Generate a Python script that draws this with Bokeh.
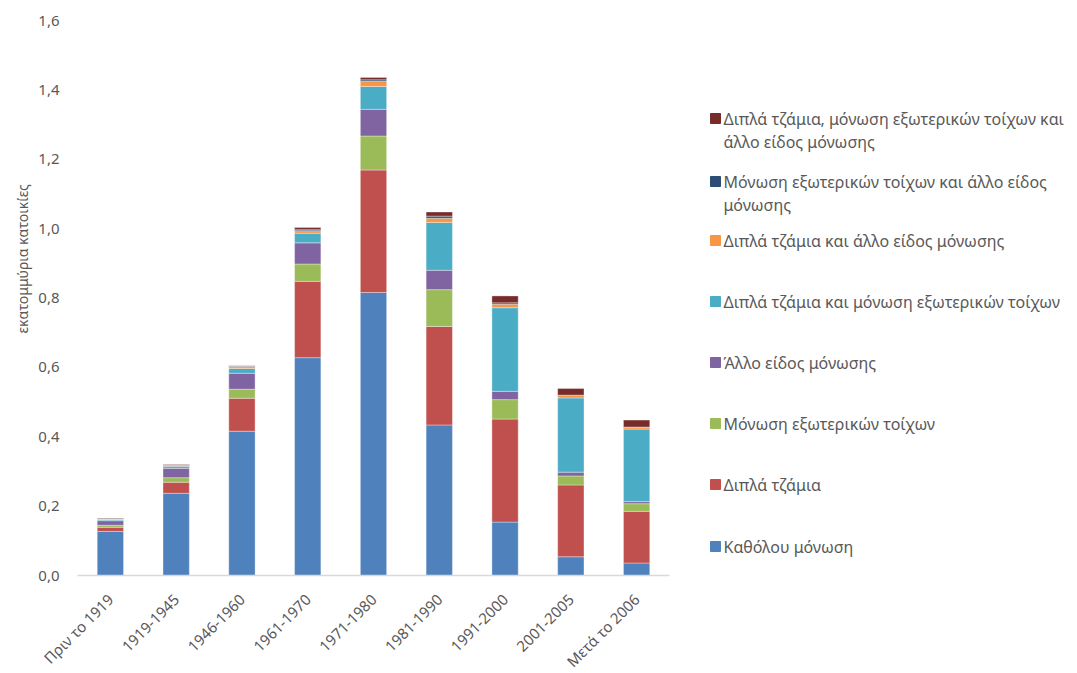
import math
from bokeh.plotting import figure
from bokeh.models import (FactorRange, Range1d, FixedTicker, CustomJSTickFormatter,
                          ColumnDataSource, Label, Title)
from bokeh.layouts import row
from bokeh.embed import file_html
from bokeh.resources import INLINE

# ---------------- data ----------------
periods = ["Πριν το 1919", "1919-1945", "1946-1960", "1961-1970", "1971-1980",
           "1981-1990", "1991-2000", "2001-2005", "Μετά το 2006"]

no_insulation     = [0.127, 0.237, 0.416, 0.628, 0.816, 0.434, 0.154, 0.054, 0.036]
double_glazing    = [0.012, 0.032, 0.095, 0.220, 0.353, 0.284, 0.297, 0.207, 0.149]
wall_insulation   = [0.006, 0.013, 0.026, 0.050, 0.098, 0.106, 0.056, 0.026, 0.022]
other_insulation  = [0.013, 0.027, 0.046, 0.061, 0.077, 0.056, 0.024, 0.011, 0.006]
glazing_walls     = [0.003, 0.006, 0.014, 0.028, 0.066, 0.138, 0.241, 0.214, 0.209]
glazing_other     = [0.002, 0.002, 0.005, 0.007, 0.015, 0.012, 0.010, 0.007, 0.005]
walls_other       = [0.001, 0.001, 0.001, 0.003, 0.004, 0.006, 0.004, 0.001, 0.001]
all_three         = [0.002, 0.002, 0.002, 0.006, 0.007, 0.012, 0.020, 0.019, 0.020]

series_keys = ["no_insulation", "double_glazing", "wall_insulation", "other_insulation",
               "glazing_walls", "glazing_other", "walls_other", "all_three"]
series_names = ["Καθόλου μόνωση",
                "Διπλά τζάμια",
                "Μόνωση εξωτερικών τοίχων",
                "Άλλο είδος μόνωσης",
                "Διπλά τζάμια και μόνωση εξωτερικών τοίχων",
                "Διπλά τζάμια και άλλο είδος μόνωσης",
                "Μόνωση εξωτερικών τοίχων και άλλο είδος\nμόνωσης",
                "Διπλά τζάμια, μόνωση εξωτερικών τοίχων και\nάλλο είδος μόνωσης"]
series_colors = ["#4F81BD", "#C0504D", "#9BBB59", "#8064A2",
                 "#4BACC6", "#F79646", "#2C4D75", "#772C2A"]

y_ticks = [0.0, 0.2, 0.4, 0.6, 0.8, 1.0, 1.2, 1.4, 1.6]
y_title = "εκατομμύρια κατοικίες"

# ---------------- styles ----------------
FONT = "Noto Sans"
TXT = "#595959"
TOP_B, FRAME_H, BOT_B = 20, 555, 112   # borders / frame height shared by both panels
LEFT_B, FRAME_W, RIGHT_B = 77, 592, 21

source = ColumnDataSource(dict(
    period=periods,
    no_insulation=no_insulation, double_glazing=double_glazing,
    wall_insulation=wall_insulation, other_insulation=other_insulation,
    glazing_walls=glazing_walls, glazing_other=glazing_other,
    walls_other=walls_other, all_three=all_three))

p = figure(x_range=FactorRange(*periods), y_range=Range1d(0, 1.6),
           width=LEFT_B + FRAME_W + RIGHT_B, height=TOP_B + FRAME_H + BOT_B,
           min_border_left=LEFT_B, min_border_top=TOP_B, min_border_bottom=BOT_B,
           min_border_right=RIGHT_B,
           output_backend="svg", toolbar_location=None)

p.vbar_stack(series_keys, x="period", width=0.4, color=series_colors, source=source,
             line_color="white", line_width=0.7, line_alpha=0.5)

p.xgrid.grid_line_color = None
p.ygrid.grid_line_color = None
p.outline_line_color = None
p.background_fill_color = "white"
p.border_fill_color = "white"

p.yaxis.ticker = FixedTicker(ticks=y_ticks)
p.yaxis.formatter = CustomJSTickFormatter(code="return tick.toFixed(1).replace('.', ',');")
p.yaxis.axis_line_color = None
p.yaxis.major_tick_line_color = None
p.yaxis.minor_tick_line_color = None
p.yaxis.major_tick_out = 0
p.yaxis.major_tick_in = 0
p.yaxis.major_label_standoff = 18
p.yaxis.major_label_text_font = FONT
p.yaxis.major_label_text_font_size = "15px"
p.yaxis.major_label_text_color = TXT

# y-axis title, placed a little above the middle of the frame as in the original
p.add_layout(Title(text=y_title, align="left", offset=242, standoff=7,
                   text_font=FONT, text_font_size="14px", text_font_style="normal",
                   text_color=TXT), "left")

p.xaxis.axis_line_color = "#D9D9D9"
p.xaxis.axis_line_width = 1.5
p.xaxis.major_tick_line_color = None
p.xaxis.minor_tick_line_color = None
p.xaxis.major_tick_out = 0
p.xaxis.major_tick_in = 0
p.xaxis.major_label_orientation = math.pi / 4
p.xaxis.major_label_standoff = 21
p.xaxis.major_label_text_font = FONT
p.xaxis.major_label_text_font_size = "15px"
p.xaxis.major_label_text_color = TXT

# ---------------- legend panel ----------------
# same borders as the chart, so its y range is in page pixel rows of the chart frame
LEG_W = 378
leg = figure(width=LEG_W, height=TOP_B + FRAME_H + BOT_B,
             x_range=Range1d(0, LEG_W), y_range=Range1d(TOP_B + FRAME_H, TOP_B),
             x_axis_location=None, y_axis_location=None, min_border=0,
             min_border_left=0, min_border_right=0,
             min_border_top=TOP_B, min_border_bottom=BOT_B,
             output_backend="svg", toolbar_location=None, outline_line_color=None)
leg.xgrid.grid_line_color = None
leg.ygrid.grid_line_color = None
leg.background_fill_color = "white"
leg.border_fill_color = "white"

order = list(range(len(series_names)))[::-1]
row_y = [118, 181, 240, 301, 362, 423, 484, 546]
sq_x, txt_x, line_gap = 25, 33, 23

sq_ys, sq_cols = [], []
for ry, idx in zip(row_y, order):
    sq_ys.append(ry)
    sq_cols.append(series_colors[idx])
    for k, line in enumerate(series_names[idx].split("\n")):
        leg.add_layout(Label(x=txt_x, y=ry + k * line_gap, text=line,
                             text_font=FONT, text_font_size="16px", text_color=TXT,
                             text_baseline="middle", text_align="left"))

leg.rect(x=[sq_x] * len(sq_ys), y=sq_ys, width=10, height=10, color=sq_cols)

layout = row(p, leg)
open("out.html", "w").write(file_html(layout, INLINE))
